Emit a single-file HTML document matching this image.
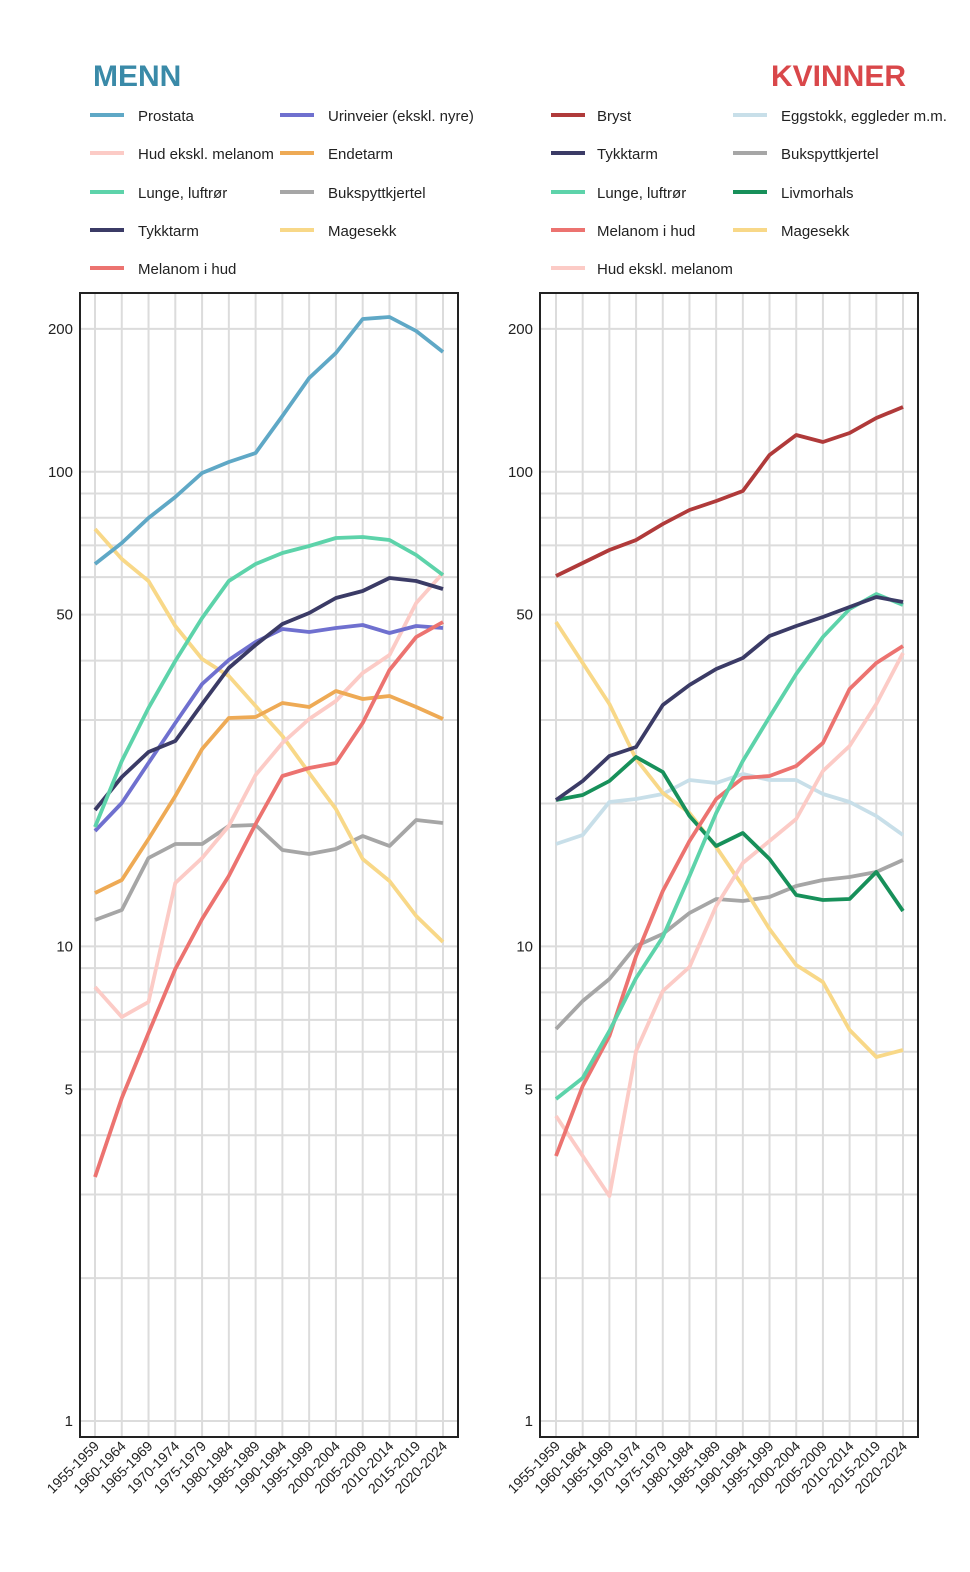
<!DOCTYPE html>
<html><head><meta charset="utf-8"><style>
html,body{margin:0;padding:0;background:#fff;}
svg{display:block;font-family:"Liberation Sans",sans-serif;}
</style></head><body>
<svg id="s" width="970" height="1572" xmlns="http://www.w3.org/2000/svg"></svg>
<script>
const s=document.getElementById('s');let h='';
const Y=v=>1421-474.6*Math.log10(v);
const cats=['1955-1959','1960-1964','1965-1969','1970-1974','1975-1979','1980-1984','1985-1989','1990-1994','1995-1999','2000-2004','2005-2009','2010-2014','2015-2019','2020-2024'];
const grid=[1,2,3,4,5,6,7,8,9,10,20,30,40,50,60,70,80,90,100,200];
function panel(x0,x1,fx,lx,series){
  for(const g of grid){h+=`<line x1="${x0}" x2="${x1}" y1="${Y(g)}" y2="${Y(g)}" stroke="#dcdcdc" stroke-width="2"/>`;}
  const step=(lx-fx)/13;
  cats.forEach((c,i)=>{const x=fx+step*i;
    h+=`<line x1="${x}" x2="${x}" y1="293" y2="1437" stroke="#dcdcdc" stroke-width="2"/>`;
    h+=`<text transform="translate(${x+5},1447) rotate(-45)" text-anchor="end" font-size="14" fill="#222">${c}</text>`;});
  [[1,'1'],[5,'5'],[10,'10'],[50,'50'],[100,'100'],[200,'200']].forEach(([v,t])=>{h+=`<text x="${x0-7}" y="${Y(v)+5}" text-anchor="end" font-size="15" fill="#222">${t}</text>`;});
  for(const [c,ys] of series){h+=`<polyline fill="none" stroke="${c}" stroke-width="3.8" stroke-linejoin="round" points="${ys.map((y,i)=>(fx+step*i).toFixed(1)+','+(y+1)).join(' ')}"/>`;}
  h+=`<rect x="${x0}" y="293" width="${x1-x0}" height="1144" fill="none" stroke="#222" stroke-width="2"/>`;
}
const C={pro:'#5fa8c6',uri:'#6f70cf',hud:'#fccbc6',end:'#eeaa55',lun:'#5dd3aa',buk:'#a6a6a6',tyk:'#3b3b66',mag:'#f8d888',mel:'#ec7370',bry:'#b03a3a',egg:'#c8dfe9',liv:'#17905a'};
panel(80,458,95,443,[
[C.buk,[919,909,857,843,843,825,824,849,853,848,835,845,819,822]],
[C.mag,[528,558,580,625,658,675,705,735,772,808,858,880,915,941]],
[C.hud,[986,1016,1001,882,857,825,774,742,718,700,672,654,602,572]],
[C.end,[892,879,838,795,748,717,716,702,706,690,698,695,706,718]],
[C.uri,[830,802,762,722,683,659,641,628,631,627,624,632,625,627]],
[C.tyk,[809,776,751,740,703,667,644,623,612,597,590,577,580,588]],
[C.lun,[826,760,707,660,617,580,563,552,545,537,536,539,554,574]],
[C.mel,[1176,1097,1032,968,918,875,823,775,767,762,722,669,636,621]],
[C.pro,[563,542,517,496,472,461,452,415,377,352,318,316,330,351]]]);
panel(540,918,556,903,[
[C.egg,[843,834,801,798,793,779,782,773,779,779,793,801,815,834]],
[C.buk,[1028,1000,978,945,933,912,898,900,896,885,879,876,871,859]],
[C.mag,[621,662,703,758,792,812,846,885,928,964,981,1029,1056,1049]],
[C.hud,[1115,1155,1195,1050,990,966,905,862,840,818,770,745,703,652]],
[C.liv,[799,794,780,756,771,815,845,832,858,894,899,898,871,910]],
[C.mel,[1155,1085,1035,955,890,840,798,777,775,765,742,688,662,645]],
[C.lun,[1098,1077,1030,977,936,875,812,760,716,673,636,608,593,604]],
[C.tyk,[799,780,755,746,704,684,668,657,635,625,616,606,596,601]],
[C.bry,[575,562,549,539,523,509,500,490,454,434,441,432,417,406]]]);
h+=`<text x="93" y="86" font-size="30" font-weight="bold" fill="#3a8aa8">MENN</text>`;
h+=`<text x="906" y="86" text-anchor="end" font-size="30" font-weight="bold" fill="#d9474a">KVINNER</text>`;
function leg(mx,tx,y,c,t){h+=`<line x1="${mx}" x2="${mx+34}" y1="${y}" y2="${y}" stroke="${c}" stroke-width="4"/><text x="${tx}" y="${y+6}" font-size="15" fill="#222">${t}</text>`;}
const rows=[115,153,192,230,268];
[[C.pro,'Prostata'],[C.hud,'Hud ekskl. melanom'],[C.lun,'Lunge, luftrør'],[C.tyk,'Tykktarm'],[C.mel,'Melanom i hud']].forEach((e,i)=>leg(90,138,rows[i],...e));
[[C.uri,'Urinveier (ekskl. nyre)'],[C.end,'Endetarm'],[C.buk,'Bukspyttkjertel'],[C.mag,'Magesekk']].forEach((e,i)=>leg(280,328,rows[i],...e));
[[C.bry,'Bryst'],[C.tyk,'Tykktarm'],[C.lun,'Lunge, luftrør'],[C.mel,'Melanom i hud'],[C.hud,'Hud ekskl. melanom']].forEach((e,i)=>leg(551,597,rows[i],...e));
[[C.egg,'Eggstokk, eggleder m.m.'],[C.buk,'Bukspyttkjertel'],[C.liv,'Livmorhals'],[C.mag,'Magesekk']].forEach((e,i)=>leg(733,781,rows[i],...e));
s.innerHTML=h;
</script>
</body></html>
